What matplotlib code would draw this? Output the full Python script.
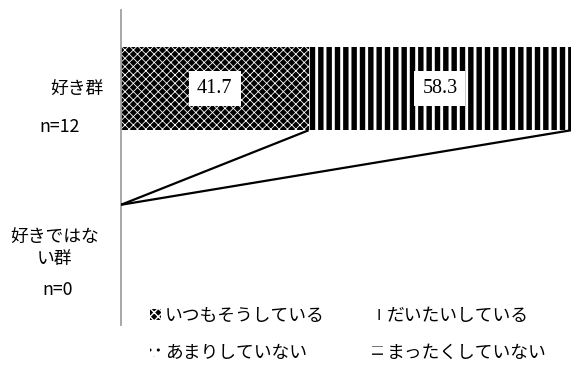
import numpy as np
import matplotlib
matplotlib.use("Agg")
import matplotlib.pyplot as plt
import matplotlib.transforms as mtransforms

plt.rcParams['font.family'] = ['Noto Sans CJK JP', 'DejaVu Sans']

# data
groups = ['好き群', '好きではない群']
group_n = [12, 0]
series = ['いつもそうしている', 'だいたいしている', 'あまりしていない', 'まったくしていない']
always = [41.7, 0]
mostly = [58.3, 0]
rarely = [0, 0]
never = [0, 0]

# styles: face, hatch colour, hatch, hatch width
styles = [
  ('black', 'white', 'xxxx', 0.6),
  ('white', 'black', '||', 3.9),
  ('white', 'black', '..', 1.0),
  ('white', 'black', '--', 2.5),
]

fig = plt.figure(figsize=(5.73, 3.68), dpi=100)
ax = fig.add_axes([0.2112, 0.1168, 0.7853, 0.856])

y = np.arange(len(groups))
h = 0.527
left = np.zeros(len(groups))
handles = []
cums = []
for vals, name, (fc, hc, hatch, hlw) in zip([always, mostly, rarely, never], series, styles):
  vals = np.asarray(vals, dtype=float)
  with plt.rc_context({'hatch.linewidth': hlw}):
    bars = ax.barh(y, vals, height=h, left=left, color=fc, edgecolor=hc,
                   hatch=hatch, linewidth=0, label=name)
    for b in bars:
      try:
        b.set_hatch_linewidth(hlw)
      except AttributeError:
        pass
  handles.append(bars)
  for yi, v, l in zip(y, vals, left):
    if v > 0:
      ax.text(l + v/2, yi, '%.1f' % v, ha='center', va='center',
              fontsize=14.5, family='Liberation Serif',
              bbox=dict(boxstyle='square,pad=0.4', fc='white', ec='none'))
  left = left + vals
  cums.append(left.copy())

# series lines between the two groups
for c in cums[:2]:
  ax.plot([c[0], c[1]], [y[0] + h/2, y[1] - h/2], color='black', lw=1.6,
          solid_capstyle='butt', zorder=3)

ax.set_xlim(0, 100)
ax.set_ylim(1.5, -0.5)
ax.set_xticks([])
ax.set_yticks([])
for s in ['top', 'right', 'bottom']:
  ax.spines[s].set_visible(False)
ax.spines['left'].set_color('#a0a0a0')
ax.spines['left'].set_linewidth(1.3)

# category labels
fs = 12.8
tr = mtransforms.blended_transform_factory(ax.transAxes, ax.transData)
ax.text(-0.04, y[0], '好き群', ha='right', va='center', fontsize=fs, transform=tr)
ax.text(-0.136, y[0] + 0.245, 'n=%d' % group_n[0], ha='center', va='center', fontsize=fs, transform=tr)
ax.text(-0.147, y[1] - 0.06, '好きではな', ha='center', va='center', fontsize=fs, transform=tr)
ax.text(-0.147, y[1] + 0.08, 'い群', ha='center', va='center', fontsize=fs, transform=tr)
ax.text(-0.14, y[1] + 0.28, 'n=%d' % group_n[1], ha='center', va='center', fontsize=fs, transform=tr)

order = [0, 2, 1, 3]
fig.legend([handles[i] for i in order], [series[i] for i in order], ncol=2,
           loc='upper left', bbox_to_anchor=(0.247, 0.19), frameon=False,
           fontsize=fs, handlelength=0.6, handleheight=0.6, handletextpad=0.2,
           columnspacing=2.7, labelspacing=1.05, borderpad=0)

fig.savefig('out.png', dpi=100)
